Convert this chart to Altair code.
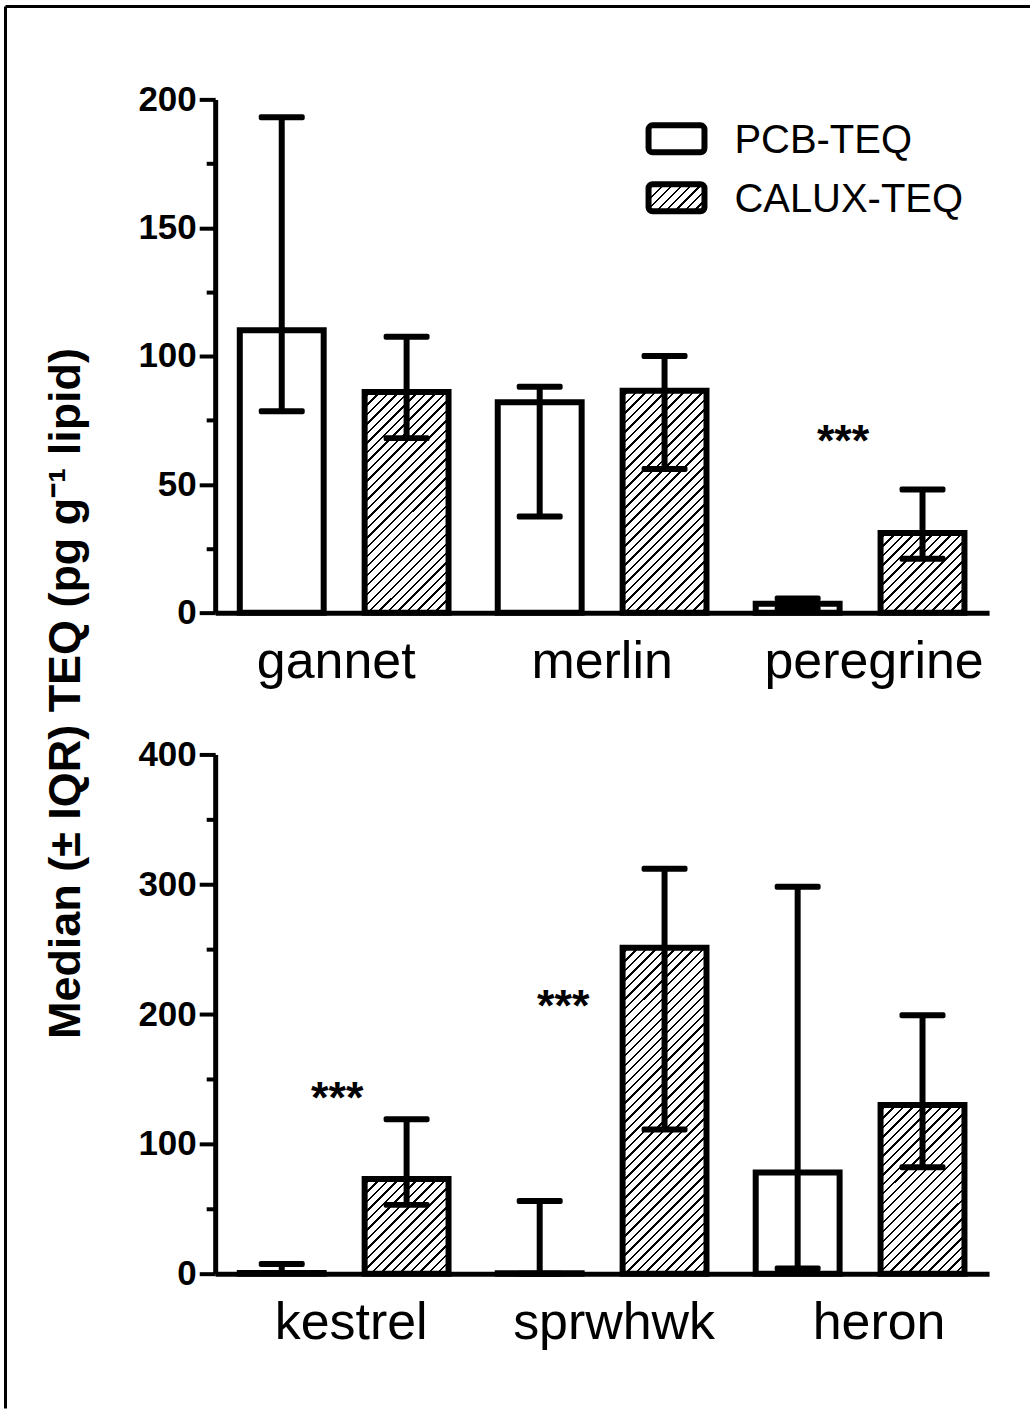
import altair as alt
import pandas as pd

# ---------------- data ----------------
SERIES = ["PCB-TEQ", "CALUX-TEQ"]

TOP_SPECIES = ["gannet", "merlin", "peregrine"]
TOP_PCB_MEDIAN = [110, 82, 3.5]
TOP_PCB_Q1 = [78.5, 37.5, 1.5]
TOP_PCB_Q3 = [193, 88, 5.5]
TOP_CALUX_MEDIAN = [86, 86.5, 31]
TOP_CALUX_Q1 = [68, 56, 21]
TOP_CALUX_Q3 = [107.5, 100, 48]

BOTTOM_SPECIES = ["kestrel", "sprwhwk", "heron"]
BOTTOM_PCB_MEDIAN = [0.5, 0.3, 78]
BOTTOM_PCB_Q1 = [0.5, 0, 4]
BOTTOM_PCB_Q3 = [7.5, 56, 298]
BOTTOM_CALUX_MEDIAN = [73, 251, 130]
BOTTOM_CALUX_Q1 = [53, 111, 82]
BOTTOM_CALUX_Q3 = [119, 312, 199]

TOP_SIG_SPECIES = ["peregrine"]
TOP_SIG_VALUE = [61]
BOTTOM_SIG_SPECIES = ["kestrel", "sprwhwk"]
BOTTOM_SIG_VALUE = [124, 195]

Y_TITLE = "Median (\u00b1 IQR) TEQ (pg g\u207b\u00b9 lipid)"

# ---------------- style ----------------
FONT = "Liberation Sans"
PLOT_W = 775
TOP_H = 514
BOTTOM_H = 520
BAR_W = 84
BAR_STROKE = 6
TOP_LABEL_SHIFT = [-8, 0, 14]
BOTTOM_LABEL_SHIFT = [7, 12, 19]


def hatch(w, h, spacing=9.5, thick=2.4):
    total = w + h
    k = total / (w * w + h * h)
    stops = [{"offset": 0, "color": "white"}]
    c = spacing / 2.0
    while c < total:
        a = c / total
        b = min((c + thick) / total, 1.0)
        stops += [
            {"offset": a, "color": "white"},
            {"offset": a, "color": "black"},
            {"offset": b, "color": "black"},
            {"offset": b, "color": "white"},
        ]
        c += spacing
    stops.append({"offset": 1, "color": "white"})
    return {"gradient": "linear", "x1": 0, "y1": 0, "x2": k * w, "y2": k * h, "stops": stops}


def y_axis(major, minor, ymax, title):
    kw = dict(
        values=list(range(0, ymax + 1, minor)),
        labelExpr=f"datum.value % {major} === 0 ? datum.label : ''",
        tickSize={"condition": {"test": f"datum.value % {major} !== 0", "value": 9}, "value": 16},
        tickWidth=4,
        tickColor="black",
        domainWidth=5,
        domainColor="black",
        labelFontSize=35,
        labelFontWeight="bold",
        labelFont=FONT,
        labelColor="black",
        labelPadding=3,
        labelLimit=0,
        grid=False,
    )
    if title:
        kw.update(
            title=title,
            titleFont=FONT,
            titleFontSize=45,
            titleFontWeight="bold",
            titleColor="black",
            titleX=-150,
            titleY=594.5,
            titleAngle=270,
            titleAlign="center",
            titleBaseline="middle",
            titleLimit=0,
        )
    else:
        kw["title"] = None
    return alt.Axis(**kw)


def make_panel(species, pm, pq1, pq3, cm, cq1, cq3, ymax, major, minor, height,
               sig_species, sig_value, sig_dx, label_shift, title, legend, frame):
    rows = []
    for i, s in enumerate(species):
        rows.append({"species": s, "series": SERIES[0], "median": pm[i], "q1": pq1[i], "q3": pq3[i]})
        rows.append({"species": s, "series": SERIES[1], "median": cm[i], "q1": cq1[i], "q3": cq3[i]})
    df = pd.DataFrame(rows)
    ppu = height / ymax

    label_offset = {
        "condition": [
            {"test": f"datum.value === '{s}'", "value": d} for s, d in zip(species, label_shift)
        ],
        "value": 0,
    }
    x_axis = alt.Axis(
        title=None, labelAngle=0, ticks=False, tickSize=0, labelPadding=24,
        labelFontSize=52, labelFont=FONT, labelColor="black", labelLimit=0,
        labelOffset=label_offset,
        domainWidth=5, domainColor="black", grid=False,
    )
    xenc = alt.X("species:N", scale=alt.Scale(domain=species, paddingInner=0, paddingOuter=0), axis=x_axis)
    xoff = alt.XOffset("series:N", scale=alt.Scale(domain=SERIES, paddingInner=0.328, paddingOuter=0.197))
    yax = y_axis(major, minor, ymax, title)
    yscale = alt.Scale(domain=[0, ymax], nice=False, zero=True)

    base = alt.Chart(df)
    layers = []
    layers.append(
        base.transform_filter(alt.datum.series == SERIES[0])
        .mark_bar(fill="white", stroke="black", strokeWidth=BAR_STROKE)
        .encode(x=xenc, xOffset=xoff, y=alt.Y("median:Q", scale=yscale, axis=yax))
    )
    for i, s in enumerate(species):
        layers.append(
            base.transform_filter((alt.datum.series == SERIES[1]) & (alt.datum.species == s))
            .mark_bar(fill=hatch(BAR_W, cm[i] * ppu), stroke="black", strokeWidth=BAR_STROKE)
            .encode(x=xenc, xOffset=xoff, y=alt.Y("median:Q", scale=yscale, axis=yax))
        )
    layers.append(
        base.mark_rule(color="black", strokeWidth=6, opacity=1)
        .encode(x=xenc, xOffset=xoff, y=alt.Y("q1:Q", scale=yscale, axis=yax), y2="q3:Q")
    )
    for fld in ["q1", "q3"]:
        layers.append(
            base.mark_tick(color="black", thickness=6, size=46, opacity=1, cornerRadius=2)
            .encode(x=xenc, xOffset=xoff, y=alt.Y(f"{fld}:Q", scale=yscale, axis=yax))
        )
    for s, v, dx in zip(sig_species, sig_value, sig_dx):
        sdf = pd.DataFrame({"species": [s], "value": [v]})
        layers.append(
            alt.Chart(sdf).mark_text(text="***", fontSize=45, fontWeight="bold", font=FONT,
                                     baseline="alphabetic", align="center", dx=dx, color="black")
            .encode(x=xenc, y=alt.Y("value:Q", scale=yscale, axis=yax))
        )
    one = pd.DataFrame({"k": [0]})
    if legend:
        layers.append(
            alt.Chart(one).mark_rect(fill="white", stroke="black", strokeWidth=6, cornerRadius=4)
            .encode(x=alt.value(434), x2=alt.value(490), y=alt.value(26), y2=alt.value(53))
        )
        layers.append(
            alt.Chart(one).mark_rect(fill=hatch(56, 27), stroke="black", strokeWidth=6, cornerRadius=4)
            .encode(x=alt.value(434), x2=alt.value(490), y=alt.value(85), y2=alt.value(112))
        )
        for lab, yy in zip(SERIES, [42, 101]):
            layers.append(
                alt.Chart(one).mark_text(text=lab, fontSize=40, font=FONT, align="left",
                                         baseline="middle", color="black")
                .encode(x=alt.value(520), y=alt.value(yy))
            )
    if frame:
        layers.append(
            alt.Chart(one).mark_rule(color="black", strokeWidth=3)
            .encode(x=alt.value(-210), y=alt.value(-93), y2=alt.value(1311))
        )
        layers.append(
            alt.Chart(one).mark_rule(color="black", strokeWidth=3)
            .encode(x=alt.value(-210), x2=alt.value(816), y=alt.value(-93))
        )
    return alt.layer(*layers).properties(width=PLOT_W, height=height)


top = make_panel(TOP_SPECIES, TOP_PCB_MEDIAN, TOP_PCB_Q1, TOP_PCB_Q3,
                 TOP_CALUX_MEDIAN, TOP_CALUX_Q1, TOP_CALUX_Q3,
                 200, 50, 25, TOP_H, TOP_SIG_SPECIES, TOP_SIG_VALUE, [-17], TOP_LABEL_SHIFT,
                 Y_TITLE, True, True)
bottom = make_panel(BOTTOM_SPECIES, BOTTOM_PCB_MEDIAN, BOTTOM_PCB_Q1, BOTTOM_PCB_Q3,
                    BOTTOM_CALUX_MEDIAN, BOTTOM_CALUX_Q1, BOTTOM_CALUX_Q3,
                    400, 100, 50, BOTTOM_H, BOTTOM_SIG_SPECIES, BOTTOM_SIG_VALUE, [-7, -39],
                    BOTTOM_LABEL_SHIFT, None, False, False)

chart = (
    alt.vconcat(top, bottom, spacing=142, bounds="flush")
    .properties(padding={"left": 3.5, "top": 3.5, "right": 0, "bottom": 0}, background="white")
    .configure(font=FONT)
    .configure_view(stroke=None, strokeWidth=0)
)

chart.save("out.html", embed_options={"renderer": "svg", "actions": False})
